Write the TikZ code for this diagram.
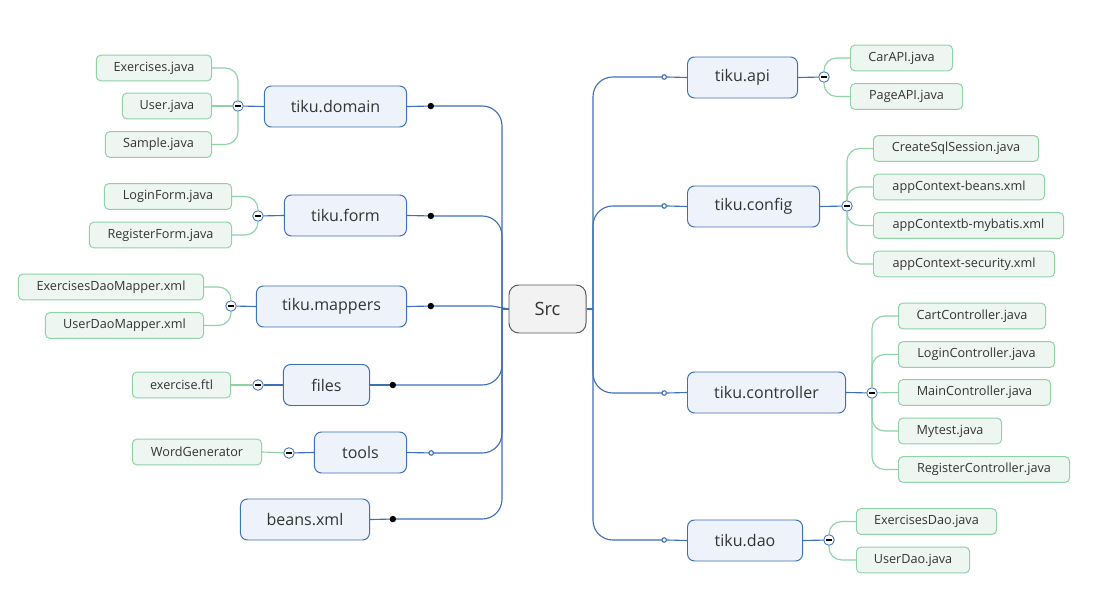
\documentclass[tikz,border=0pt]{standalone}
\usepackage{fontspec}
\setmainfont{Open Sans}
\usepackage{tikz}
\usetikzlibrary{calc}
\usetikzlibrary{arrows.meta,shapes}

\definecolor{blueline}{HTML}{3E70B6}
\definecolor{bluefill}{HTML}{EEF3FB}
\definecolor{greenline}{HTML}{8ED2A6}
\definecolor{greenfill}{HTML}{EEF6F1}
\definecolor{rootfill}{HTML}{F2F2F2}
\definecolor{rootline}{HTML}{595959}
\definecolor{ink}{HTML}{333333}

\begin{document}
\begin{tikzpicture}[x=0.025cm,y=-0.025cm,
  topic/.style={draw=blueline,fill=bluefill,rounded corners=5pt,line width=.7pt,
    minimum height=1.025cm,text=ink,font=\fontsize{11.4}{13}\selectfont},
  leaf/.style={draw=greenline,fill=greenfill,rounded corners=3pt,line width=.7pt,
    minimum height=.64cm,text=ink,font=\fontsize{9}{11}\selectfont},
  root/.style={draw=rootline,fill=rootfill,rounded corners=7pt,line width=.7pt,
    minimum width=1.925cm,minimum height=1.2cm,text=ink,font=\fontsize{13}{15}\selectfont},
  link/.style={draw=blueline,line width=.8pt},
  twig/.style={draw=greenline,line width=.8pt,rounded corners=9pt},
  dotend/.style={-{Circle[length=4.5pt,black]}},
  ringend/.style={-{Circle[open,length=4pt,fill=white]}},
  fold/.style={circle,draw=blueline,fill=white,line width=.6pt,inner sep=0pt,minimum size=7.5pt,
    path picture={\draw[black,line width=.8pt] ($(path picture bounding box.center)+(-2pt,0)$) -- ++(4pt,0);}}]

      \useasboundingbox (0,0) rectangle (1100,610);

      \node[root] (src) at (547.5,309) {Src};
      \coordinate (lt) at (502,309);
      \coordinate (rt) at (593,309);

      % left side
      \node[topic,anchor=east,minimum width=3.55cm] (domain) at (407,106.5) {tiku.domain};
      \node[topic,anchor=east,minimum width=3.05cm] (form) at (407,215.5) {tiku.form};
      \node[topic,anchor=east,minimum width=3.75cm] (mappers) at (407,306.5) {tiku.mappers};
      \node[topic,anchor=east,minimum width=2.15cm] (files) at (370,385) {files};
      \node[topic,anchor=east,minimum width=2.3cm] (tools) at (407,452.5) {tools};
      \node[topic,anchor=east,minimum width=3.225cm] (beans) at (370,519.5) {beans.xml};

      \node[fold] (domfold) at (238,106) {};
      \node[fold] (formfold) at (258,216) {};
      \node[fold] (mapfold) at (231,306) {};
      \node[fold] (filefold) at (258,385) {};
      \node[fold] (toolfold) at (289,453) {};

      \node[leaf,anchor=east,minimum width=2.875cm] (exer) at (212,68) {Exercises.java};
      \node[leaf,anchor=east,minimum width=2.225cm] (user) at (212,106) {User.java};
      \node[leaf,anchor=east,minimum width=2.65cm] (sample) at (212,144.5) {Sample.java};
      \node[leaf,anchor=east,minimum width=3.175cm] (loginform) at (232,196.5) {LoginForm.java};
      \node[leaf,anchor=east,minimum width=3.55cm] (regform) at (232,235) {RegisterForm.java};
      \node[leaf,anchor=east,minimum width=4.625cm] (exmapper) at (204,287) {ExercisesDaoMapper.xml};
      \node[leaf,anchor=east,minimum width=3.95cm] (usermapper) at (204,325.5) {UserDaoMapper.xml};
      \node[leaf,anchor=east,minimum width=2.45cm] (ftl) at (231,385) {exercise.ftl};
      \node[leaf,anchor=east,minimum width=3.225cm] (wordgen) at (262,452) {WordGenerator};

      \coordinate (domdot) at (434,106);
      \coordinate (formdot) at (434,216);
      \coordinate (mapdot) at (434,306);
      \coordinate (mapbend) at (492,306);
      \coordinate (filedot) at (396,385);
      \coordinate (toolring) at (434,453);
      \coordinate (beandot) at (396,519);

      \draw [style=dotend,link] (domain.east) -- (domdot);
      \draw [style=dotend,link] (form.east) -- (formdot);
      \draw [style=dotend,link] (mappers.east) -- (mapdot);
      \draw [style=dotend,link] (files.east) -- (filedot);
      \draw [style=ringend,link] (tools.east) -- (toolring);
      \draw [style=dotend,link] (beans.east) -- (beandot);

      \draw [link,rounded corners=14pt] (domdot) -| (lt);
      \draw [link,rounded corners=14pt] (formdot) -| (lt);
      \draw [link] (mapdot) -- (mapbend) -- (src.west);
      \draw [link,rounded corners=14pt] (filedot) -| (lt);
      \draw [link,rounded corners=14pt] (toolring) -| (lt);
      \draw [link,rounded corners=14pt] (beandot) -| (lt);
      \draw [link] (lt) -- (src.west);

      \draw [link] (domfold) -- (domain.west);
      \draw [link] (formfold) -- (form.west);
      \draw [link] (mapfold) -- (mappers.west);
      \draw [link] (filefold) -- (files.west);
      \draw [link] (toolfold) -- (tools.west);

      \draw [twig] (domfold) |- (exer.east);
      \draw [twig] (domfold) -- (user.east);
      \draw [twig] (domfold) |- (sample.east);
      \draw [twig] (formfold) |- (loginform.east);
      \draw [twig] (formfold) |- (regform.east);
      \draw [twig] (mapfold) |- (exmapper.east);
      \draw [twig] (mapfold) |- (usermapper.east);
      \draw [twig] (filefold) -- (ftl.east);
      \draw [twig] (toolfold) -- (wordgen.east);

      % right side
      \node[topic,anchor=west,minimum width=2.75cm] (api) at (687,77.5) {tiku.api};
      \node[topic,anchor=west,minimum width=3.3cm] (config) at (687,206.5) {tiku.config};
      \node[topic,anchor=west,minimum width=3.95cm] (controller) at (687,392.5) {tiku.controller};
      \node[topic,anchor=west,minimum width=2.875cm] (dao) at (687,540.5) {tiku.dao};

      \node[fold] (apifold) at (824,77) {};
      \node[fold] (conffold) at (847,206) {};
      \node[fold] (ctrlfold) at (872,393) {};
      \node[fold] (daofold) at (829,540) {};

      \node[leaf,anchor=west,minimum width=2.55cm] (carapi) at (850,58) {CarAPI.java};
      \node[leaf,anchor=west,minimum width=2.8cm] (pageapi) at (850,96.5) {PageAPI.java};
      \node[leaf,anchor=west,minimum width=4.125cm] (sqlsession) at (873,148.5) {CreateSqlSession.java};
      \node[leaf,anchor=west,minimum width=4.275cm] (ctxbeans) at (873,187) {appContext-beans.xml};
      \node[leaf,anchor=west,minimum width=4.75cm] (ctxmybatis) at (873,225.5) {appContextb-mybatis.xml};
      \node[leaf,anchor=west,minimum width=4.525cm] (ctxsecurity) at (873,264) {appContext-security.xml};
      \node[leaf,anchor=west,minimum width=3.675cm] (cartctrl) at (898,316) {CartController.java};
      \node[leaf,anchor=west,minimum width=3.9cm] (loginctrl) at (898,354.5) {LoginController.java};
      \node[leaf,anchor=west,minimum width=3.8cm] (mainctrl) at (898,392.5) {MainController.java};
      \node[leaf,anchor=west,minimum width=2.575cm] (mytest) at (898,431) {Mytest.java};
      \node[leaf,anchor=west,minimum width=4.275cm] (regctrl) at (898,469.5) {RegisterController.java};
      \node[leaf,anchor=west,minimum width=3.5cm] (exdao) at (856,521.5) {ExercisesDao.java};
      \node[leaf,anchor=west,minimum width=2.825cm] (userdao) at (856,560) {UserDao.java};

      \coordinate (apiring) at (667,77);
      \coordinate (confring) at (667,206);
      \coordinate (ctrlring) at (667,393);
      \coordinate (daoring) at (667,540);

      \draw [link] (src.east) -- (rt);
      \draw [style=ringend,link,rounded corners=14pt] (rt) |- (apiring);
      \draw [style=ringend,link,rounded corners=14pt] (rt) |- (confring);
      \draw [style=ringend,link,rounded corners=14pt] (rt) |- (ctrlring);
      \draw [style=ringend,link,rounded corners=14pt] (rt) |- (daoring);

      \draw [link] (apiring) -- (api.west);
      \draw [link] (confring) -- (config.west);
      \draw [link] (ctrlring) -- (controller.west);
      \draw [link] (daoring) -- (dao.west);

      \draw [link] (api.east) -- (apifold);
      \draw [link] (config.east) -- (conffold);
      \draw [link] (controller.east) -- (ctrlfold);
      \draw [link] (dao.east) -- (daofold);

      \draw [twig] (apifold) |- (carapi.west);
      \draw [twig] (apifold) |- (pageapi.west);
      \draw [twig] (conffold) |- (sqlsession.west);
      \draw [twig] (conffold) |- (ctxbeans.west);
      \draw [twig] (conffold) |- (ctxmybatis.west);
      \draw [twig] (conffold) |- (ctxsecurity.west);
      \draw [twig] (ctrlfold) |- (cartctrl.west);
      \draw [twig] (ctrlfold) |- (loginctrl.west);
      \draw [twig] (ctrlfold) -- (mainctrl.west);
      \draw [twig] (ctrlfold) |- (mytest.west);
      \draw [twig] (ctrlfold) |- (regctrl.west);
      \draw [twig] (daofold) |- (exdao.west);
      \draw [twig] (daofold) |- (userdao.west);
    \end{tikzpicture}
\end{document}
